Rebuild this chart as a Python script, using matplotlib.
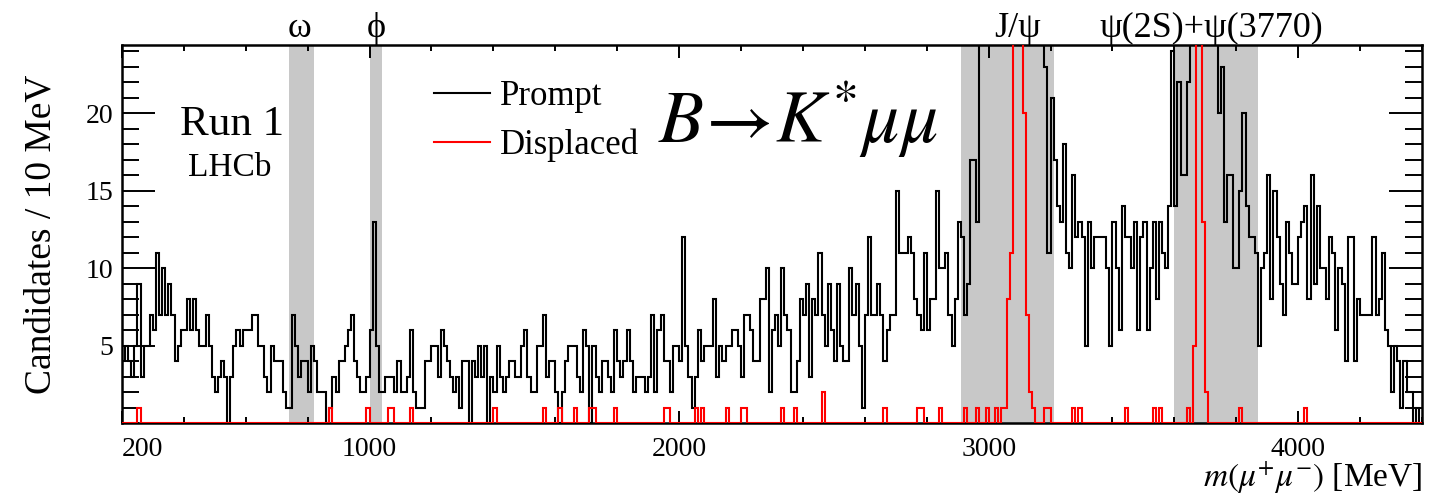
import numpy as np
import matplotlib
matplotlib.use('Agg')
import matplotlib.pyplot as plt
from matplotlib.ticker import MultipleLocator

plt.rcParams['font.family'] = ['Liberation Serif', 'DejaVu Serif']
plt.rcParams['mathtext.fontset'] = 'stix'

# 10 MeV bins from 200 to 4400 MeV
bin_edges = np.arange(200, 4410, 10)

# prompt candidates per bin (values above 24 are off-scale in the original)
prompt = [
    4, 5, 4, 3, 5, 9, 3, 5, 5, 7,
    6, 11, 7, 10, 7, 9, 7, 4, 5, 6,
    6, 8, 6, 8, 6, 5, 5, 7, 5, 3,
    2, 3, 4, 3, 0, 3, 5, 6, 5, 6,
    6, 6, 7, 7, 5, 5, 3, 2, 5, 4,
    4, 4, 2, 1, 1, 7, 5, 3, 4, 4,
    2, 5, 4, 2, 2, 2, 0, 1, 3, 2,
    4, 4, 5, 6, 7, 4, 3, 2, 2, 3,
    6, 13, 5, 2, 2, 3, 3, 3, 2, 4,
    2, 2, 3, 6, 2, 1, 1, 1, 4, 4,
    5, 5, 3, 6, 5, 4, 3, 2, 3, 1,
    4, 4, 0, 4, 3, 5, 3, 5, 0, 3,
    2, 5, 3, 2, 3, 4, 4, 3, 3, 5,
    6, 3, 2, 2, 5, 5, 7, 3, 4, 4,
    2, 0, 2, 4, 5, 5, 5, 3, 2, 6,
    5, 0, 5, 3, 2, 4, 4, 3, 2, 6,
    4, 3, 4, 6, 4, 2, 3, 3, 3, 2,
    3, 7, 2, 6, 7, 4, 4, 2, 5, 5,
    4, 12, 5, 3, 1, 3, 6, 4, 5, 5,
    5, 8, 3, 5, 4, 5, 5, 6, 6, 5,
    3, 7, 7, 6, 4, 4, 8, 8, 10, 2,
    6, 7, 5, 10, 7, 6, 2, 2, 4, 8,
    7, 9, 3, 8, 7, 11, 7, 5, 9, 6,
    4, 9, 5, 4, 4, 10, 7, 9, 5, 1,
    7, 12, 7, 7, 9, 7, 4, 6, 7, 7,
    15, 11, 11, 11, 12, 11, 8, 7, 6, 11,
    6, 8, 8, 15, 10, 10, 11, 7, 5, 8,
    13, 12, 7, 9, 17, 17, 13, 28, 34, 40,
    48, 55, 62, 66, 70, 68, 64, 58, 52, 47,
    42, 38, 34, 31, 29, 27, 26, 25, 23, 11,
    21, 17, 14, 13, 18, 11, 10, 16, 12, 13,
    12, 5, 13, 10, 12, 12, 12, 12, 10, 5,
    13, 10, 6, 14, 12, 12, 10, 13, 6, 12,
    13, 6, 10, 13, 8, 13, 11, 10, 14, 24,
    14, 22, 16, 16, 22, 30, 36, 42, 45, 40,
    36, 32, 28, 26, 20, 23, 13, 16, 16, 10,
    10, 15, 20, 14, 12, 12, 11, 5, 10, 11,
    16, 8, 15, 12, 9, 7, 13, 11, 9, 9,
    12, 13, 14, 8, 16, 9, 14, 10, 10, 8,
    12, 11, 6, 10, 9, 4, 12, 12, 4, 8,
    7, 7, 7, 7, 12, 7, 8, 11, 6, 5,
    2, 5, 4, 1, 4, 2, 2, 0, 1, 0,
]

# displaced candidates: only the non-empty bins
displaced_bins = [
    5, 67, 79, 86, 87, 93, 120, 136, 141, 146, 151, 152, 159, 175, 176,
    185, 187, 195, 200, 201, 213, 217, 226, 246, 257, 258, 264, 272, 276,
    279, 282, 284, 285, 286, 287, 288, 289, 290, 291, 292, 293, 294, 298,
    299, 307, 309, 324, 333, 335, 344, 346, 347, 348, 349, 350, 361, 382,
]
displaced_counts = [
    1, 1, 1, 1, 1, 1, 1, 1, 1, 1, 1, 1, 1, 1, 1,
    1, 1, 1, 1, 1, 1, 1, 2, 1, 1, 1, 1, 1, 1,
    1, 1, 1, 1, 8, 11, 35, 60, 40, 20, 7, 2, 1, 1,
    1, 1, 1, 1, 1, 1, 1, 5, 30, 40, 13, 2, 1, 1,
]
displaced = np.zeros(len(prompt))
displaced[displaced_bins] = displaced_counts

# vetoed resonance windows (MeV) and their labels
veto_lo = [740, 1000, 2910, 3600]
veto_hi = [820, 1040, 3210, 3870]
res_names = ['ω', 'ϕ', 'J/ψ', 'ψ(2S)+ψ(3770)']
res_pos = [775, 1020, 3095, 3720]

fig = plt.figure(figsize=(14.4, 4.94), dpi=100)
ax = fig.add_axes([0.0847, 0.1437, 0.9028, 0.7652])

for lo, hi in zip(veto_lo, veto_hi):
    ax.axvspan(lo, hi, color='#c8c8c8', lw=0, zorder=0)

ax.stairs(prompt, bin_edges, color='black', lw=1.5, label='Prompt', zorder=2)
ax.stairs(displaced, bin_edges, color='red', lw=1.5, label='Displaced', zorder=3)

ax.set_xlim(200, 4400)
ax.set_ylim(0, 24.4)

ax.set_xticks([200, 1000, 2000, 3000, 4000], ['200', '1000', '2000', '3000', '4000'])
ax.get_xticklabels()[0].set_horizontalalignment('left')
ax.xaxis.set_minor_locator(MultipleLocator(200))
ax.set_yticks([5, 10, 15, 20])
ax.yaxis.set_minor_locator(MultipleLocator(1))
ax.tick_params(which='both', direction='in', top=True, right=True, width=1.4,
               labelsize=20)
ax.tick_params(axis='x', which='major', length=9, pad=10)
ax.tick_params(axis='x', which='minor', length=4.5)
ax.tick_params(axis='y', which='major', length=24, pad=6)
ax.tick_params(axis='y', which='minor', length=12)
for sp in ax.spines.values():
    sp.set_linewidth(1.8)

ax.set_ylabel('Candidates / 10 MeV', fontsize=27, labelpad=20)
ax.set_xlabel(r'$m(\mu^{+}\mu^{-})$ [MeV]', fontsize=24, loc='right', labelpad=-2)

ax.legend(loc='upper left', bbox_to_anchor=(0.216, 0.99), frameon=False,
          fontsize=25, handlelength=1.6, handletextpad=0.3, labelspacing=0.45)

ax.text(0.085, 0.79, 'Run 1', transform=ax.transAxes, fontsize=31,
        ha='center', va='center')
ax.text(0.083, 0.675, 'LHCb', transform=ax.transAxes, fontsize=24,
        ha='center', va='center')
ax.text(0.52, 0.80, r'$B\!\rightarrow\!K^{*}\mu\mu$', transform=ax.transAxes,
        fontsize=53, ha='center', va='center')

for name, pos in zip(res_names, res_pos):
    ax.text(pos, 1.02, name, transform=ax.get_xaxis_transform(), fontsize=26,
            ha='center', va='baseline')

fig.savefig('out.png', dpi=100)
